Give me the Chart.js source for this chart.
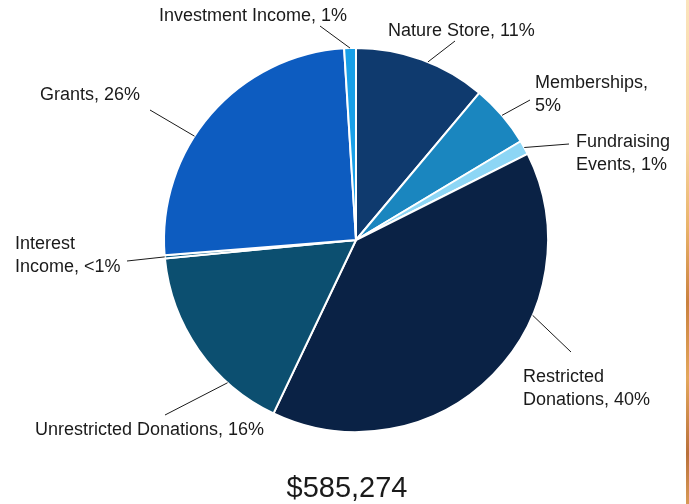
<!DOCTYPE html>
<html>
<head>
<meta charset="utf-8">
<script src="https://cdn.jsdelivr.net/npm/chart.js@4.4.1/dist/chart.umd.min.js"></script>
<style>
  html, body { margin: 0; padding: 0; background: #fff; }
  #wrap { position: relative; width: 689px; height: 504px; overflow: hidden; }
  #edge {
    position: absolute; left: 686px; top: 0; width: 3px; height: 504px;
    background: linear-gradient(180deg, #fbe3bc 0%, #f6d29c 30%, #e9b46a 45%, #c9813e 60%, #e3a85c 75%, #b8703a 90%, #d89a56 100%);
  }
</style>
</head>
<body>
<div id="wrap">
  <canvas id="pieChart" width="689" height="504"></canvas>
  <div id="edge"></div>
</div>
<script>
// Revenue sources, clockwise from 12 o'clock
const categories = ['Nature Store', 'Memberships', 'Fundraising Events', 'Restricted Donations',
  'Unrestricted Donations', 'Interest Income', 'Grants', 'Investment Income'];
const amounts = [65000, 31000, 7000, 231000, 96000, 1500, 148000, 5774];
const percentLabels = ['11%', '5%', '1%', '40%', '16%', '<1%', '26%', '1%'];
const totalLabel = '$585,274';

const colors = ['#0f3a6e', '#1a86bf', '#8dd6f5', '#0a2245', '#0c4f70', '#0a5a86', '#0d5cc0', '#19a0e8'];

// label layout: text lines, left/right anchor, text y, leader line end, where on the arc the line starts
const labelLayout = [
  { lines: ['Nature Store, 11%'], x: 388, y: 31, align: 'left', end: [455, 41], at: 0.55 },
  { lines: ['Memberships,', '5%'], x: 535, y: 83, align: 'left', end: [530, 100], at: 0.5 },
  { lines: ['Fundraising', 'Events, 1%'], x: 576, y: 142, align: 'left', end: [569, 144], at: 0.5 },
  { lines: ['Restricted', 'Donations, 40%'], x: 523, y: 377, align: 'left', end: [571, 352], at: 0.35 },
  { lines: ['Unrestricted Donations, 16%'], x: 35, y: 430, align: 'left', end: [165, 415], at: 0.28 },
  { lines: ['Interest', 'Income, <1%'], x: 15, y: 244, align: 'left', end: [127, 261], at: 0.5 },
  { lines: ['Grants, 26%'], x: 40, y: 95, align: 'left', end: [150, 110], at: 0.41 },
  { lines: ['Investment Income, 1%'], x: 347, y: 16, align: 'right', end: [320, 26], at: 0.5 }
];

const labelPlugin = {
  id: 'outsideLabels',
  afterDatasetsDraw(chart) {
    const ctx = chart.ctx;
    const arcs = chart.getDatasetMeta(0).data;
    ctx.save();
    ctx.strokeStyle = '#1a1a1a';
    ctx.lineWidth = 1;
    ctx.fillStyle = '#1a1a1a';
    ctx.font = '18px "Liberation Sans", Arial, sans-serif';
    ctx.textBaseline = 'middle';
    arcs.forEach((arc, i) => {
      const lay = labelLayout[i];
      const p = arc.getProps(['x', 'y', 'startAngle', 'endAngle', 'outerRadius'], true);
      const a = p.startAngle + (p.endAngle - p.startAngle) * lay.at;
      const sx = p.x + Math.cos(a) * p.outerRadius;
      const sy = p.y + Math.sin(a) * p.outerRadius;
      ctx.beginPath();
      ctx.moveTo(sx, sy);
      ctx.lineTo(lay.end[0], lay.end[1]);
      ctx.stroke();
      ctx.textAlign = lay.align;
      lay.lines.forEach((t, k) => ctx.fillText(t, lay.x, lay.y + k * 23));
    });
    // total below the pie
    ctx.textAlign = 'center';
    ctx.font = '29px "Liberation Sans", Arial, sans-serif';
    ctx.fillText(totalLabel, 347, 489);
    ctx.restore();
  }
};

new Chart(document.getElementById('pieChart').getContext('2d'), {
  type: 'pie',
  data: {
    labels: categories.map((c, i) => c + ', ' + percentLabels[i]),
    datasets: [{
      data: amounts,
      backgroundColor: colors,
      borderColor: '#ffffff',
      borderWidth: 2
    }]
  },
  options: {
    responsive: false,
    animation: false,
    layout: { padding: { left: 163, right: 140, top: 47, bottom: 71 } },
    plugins: {
      legend: { display: false },
      tooltip: { enabled: false }
    }
  },
  plugins: [labelPlugin]
});
</script>
</body>
</html>
